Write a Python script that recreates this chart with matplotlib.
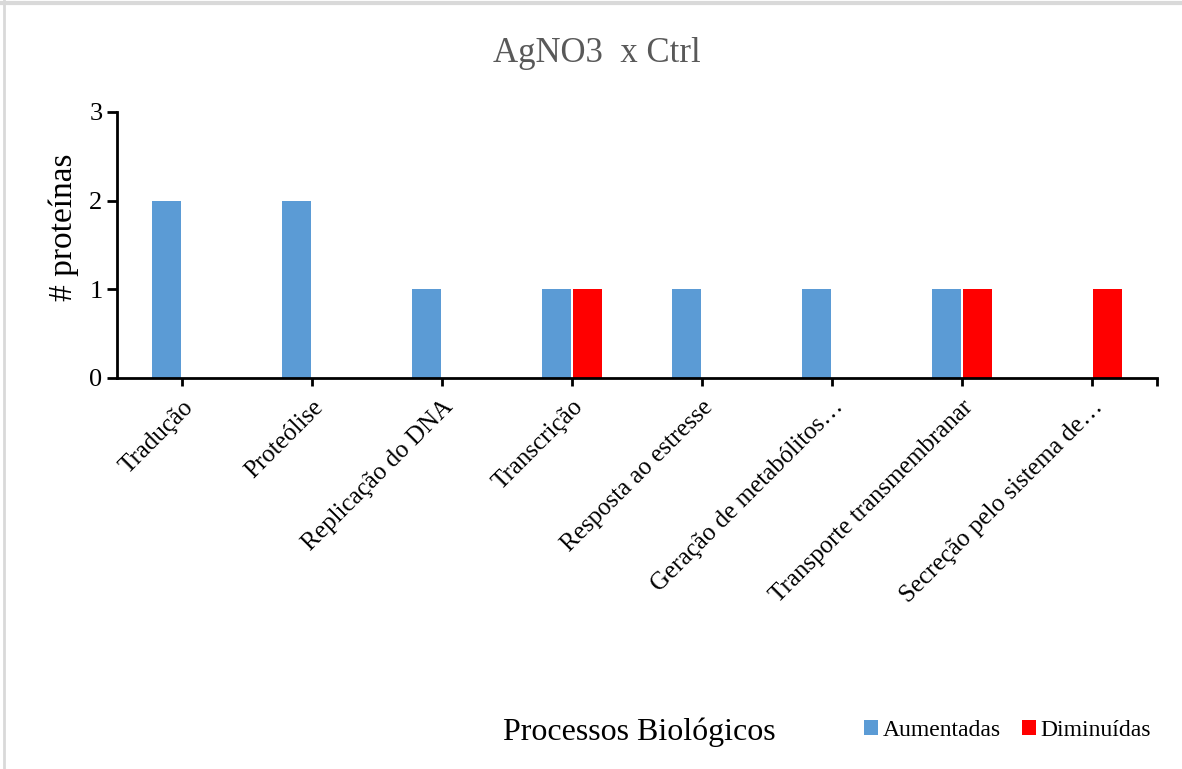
import matplotlib.pyplot as plt
import numpy as np
from matplotlib.lines import Line2D

categorias = ["Tradução", "Proteólise", "Replicação do DNA", "Transcrição",
              "Resposta ao estresse", "Geração de metabólitos…",
              "Transporte transmembranar", "Secreção pelo sistema de…"]
aumentadas = [2, 2, 1, 1, 1, 1, 1, 0]
diminuidas = [0, 0, 0, 1, 0, 0, 1, 1]

plt.rcParams['font.family'] = ['Liberation Serif', 'DejaVu Serif']

fig = plt.figure(figsize=(11.82, 7.69), dpi=100)
ax = fig.add_axes([0.099, 0.5085, 0.880, 0.3459])

x = np.arange(len(categorias))
w = 0.22
ax.bar(x - 0.12, aumentadas, w, color='#5b9bd5', label='Aumentadas')
ax.bar(x + 0.12, diminuidas, w, color='#ff0000', label='Diminuídas')

ax.set_xlim(-0.5, len(categorias) - 0.5)
ax.set_ylim(0, 3)
ax.set_yticks([0, 1, 2, 3])
ax.set_xticks(list(x) + [len(categorias) - 0.5])
ax.set_xticklabels(categorias + [""], rotation=45, ha='right',
                   rotation_mode='anchor', fontsize=18)
ax.tick_params(axis='y', labelsize=19, width=2, length=7, direction='out')
ax.tick_params(axis='x', width=2, length=6, direction='out', pad=7)

for s in ['top', 'right']:
    ax.spines[s].set_visible(False)
for s in ['left', 'bottom']:
    ax.spines[s].set_linewidth(2)

ax.set_ylabel('# proteínas', fontsize=24)
ax.yaxis.set_label_coords(-0.037, 0.565)
fig.text(0.505, 0.93, 'AgNO3  x Ctrl', ha='center', va='center',
         fontsize=25, color='#595959')
fig.text(0.541, 0.048, 'Processos Biológicos', ha='center', va='center',
         fontsize=23)

fig.legend(loc='center right', bbox_to_anchor=(0.992, 0.05), ncol=2,
           frameon=False, fontsize=17, handlelength=0.6, handleheight=0.6,
           handletextpad=0.2, columnspacing=0.9)

# light grey frame along the top and left edges
fig.add_artist(Line2D([0, 1], [0.996, 0.996], transform=fig.transFigure,
                      color='#d9d9d9', linewidth=3))
fig.add_artist(Line2D([0.003, 0.003], [0, 1], transform=fig.transFigure,
                      color='#d9d9d9', linewidth=2))

fig.savefig('out.png', dpi=100)
